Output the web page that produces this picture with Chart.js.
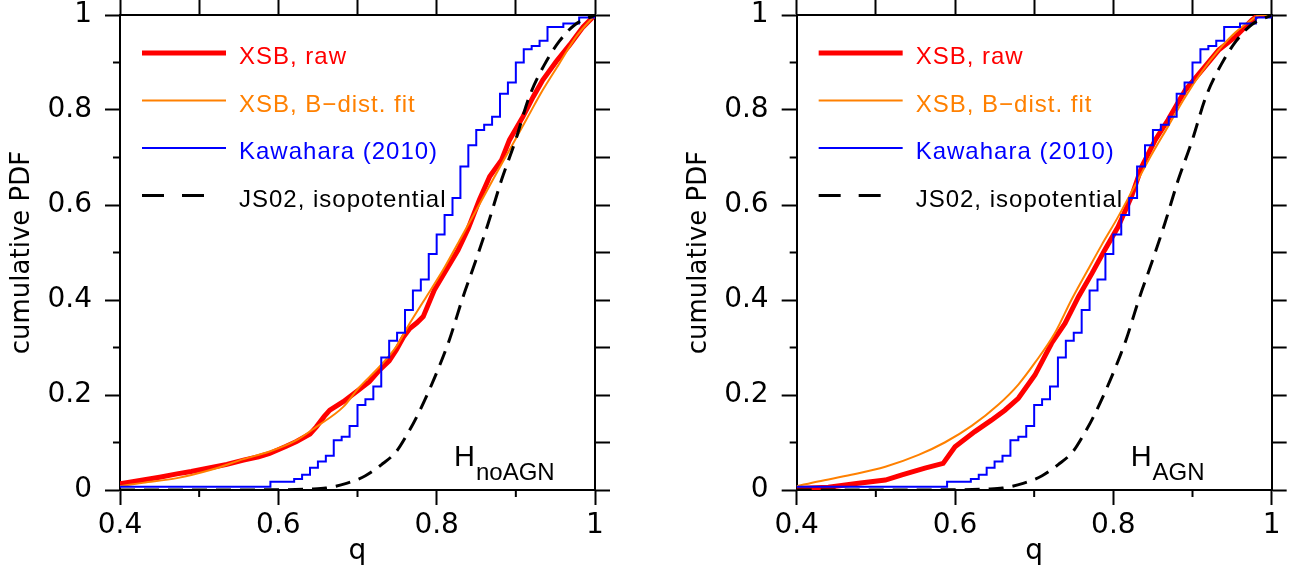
<!DOCTYPE html>
<html>
<head>
<meta charset="utf-8">
<script src="https://cdn.jsdelivr.net/npm/chart.js@4.4.0/dist/chart.umd.min.js"></script>
<style>
  html, body { margin: 0; padding: 0; background: #fff; }
  #wrap { position: relative; width: 1292px; height: 577px; }
  .panel { position: absolute; top: 0; width: 646px; height: 577px; }
</style>
</head>
<body>
<div id="wrap">
  <div class="panel" style="left:0"><canvas id="leftChart" width="646" height="577"></canvas></div>
  <div class="panel" style="left:646px"><canvas id="rightChart" width="646" height="577"></canvas></div>
</div>
<script>
// Kawahara (2010) step CDF - same in both panels
const kawQ = [0.40, 0.59, 0.62, 0.63, 0.64, 0.65, 0.66, 0.67, 0.68, 0.69, 0.70, 0.71, 0.72, 0.73, 0.74, 0.75, 0.76, 0.77, 0.78, 0.79, 0.80, 0.81, 0.82, 0.83, 0.84, 0.85, 0.86, 0.87, 0.88, 0.89, 0.90, 0.91, 0.92, 0.93, 0.94, 0.96, 0.98, 1.00];
const kawP = [0.007, 0.0175, 0.023, 0.032, 0.047, 0.06, 0.072, 0.105, 0.112, 0.135, 0.179, 0.191, 0.218, 0.279, 0.314, 0.331, 0.379, 0.42, 0.443, 0.497, 0.538, 0.579, 0.615, 0.681, 0.726, 0.758, 0.769, 0.786, 0.834, 0.858, 0.9, 0.928, 0.935, 0.946, 0.975, 0.982, 0.995, 1.0];

// JS02 isopotential (dashed) - same in both panels
const jsQ = [0.40, 0.50, 0.60, 0.64, 0.66, 0.686, 0.71, 0.73, 0.749, 0.762, 0.776, 0.797, 0.816, 0.832, 0.849, 0.865, 0.882, 0.899, 0.917, 0.936, 0.955, 0.975, 1.0];
const jsP = [0, 0, 0.0005, 0.002, 0.004, 0.014, 0.03, 0.053, 0.081, 0.115, 0.158, 0.235, 0.316, 0.40, 0.481, 0.561, 0.653, 0.733, 0.828, 0.895, 0.945, 0.98, 1.0];

// H_noAGN panel
const rawNoQ = [0.40, 0.429, 0.45, 0.472, 0.49, 0.514, 0.535, 0.556, 0.575, 0.589, 0.61, 0.623, 0.64, 0.648, 0.658, 0.665, 0.682, 0.701, 0.715, 0.728, 0.74, 0.749, 0.758, 0.766, 0.775, 0.783, 0.797, 0.812, 0.827, 0.84, 0.854, 0.867, 0.882, 0.892, 0.909, 0.922, 0.934, 0.951, 0.968, 0.985, 1.0];
const rawNoP = [0.013, 0.021, 0.027, 0.034, 0.039, 0.047, 0.054, 0.063, 0.07, 0.077, 0.092, 0.102, 0.118, 0.133, 0.155, 0.168, 0.186, 0.21, 0.228, 0.253, 0.272, 0.295, 0.322, 0.34, 0.352, 0.365, 0.421, 0.463, 0.505, 0.551, 0.611, 0.66, 0.695, 0.737, 0.786, 0.828, 0.863, 0.902, 0.937, 0.975, 1.0];
const fitNoQ = [0.40, 0.429, 0.472, 0.514, 0.556, 0.589, 0.623, 0.648, 0.682, 0.701, 0.728, 0.749, 0.766, 0.787, 0.808, 0.829, 0.85, 0.871, 0.892, 0.913, 0.934, 0.955, 0.976, 1.0];
const fitNoP = [0.008, 0.015, 0.025, 0.042, 0.065, 0.081, 0.105, 0.133, 0.175, 0.214, 0.26, 0.302, 0.351, 0.407, 0.463, 0.526, 0.589, 0.653, 0.716, 0.779, 0.842, 0.898, 0.954, 1.0];

// H_AGN panel
const rawAgnQ = [0.40, 0.44, 0.478, 0.512, 0.533, 0.562, 0.585, 0.60, 0.625, 0.646, 0.663, 0.68, 0.701, 0.722, 0.739, 0.756, 0.773, 0.789, 0.806, 0.823, 0.836, 0.853, 0.869, 0.891, 0.912, 0.933, 0.954, 0.975, 0.983, 1.0];
const rawAgnP = [0.003, 0.006, 0.014, 0.021, 0.032, 0.046, 0.056, 0.091, 0.123, 0.147, 0.168, 0.193, 0.242, 0.309, 0.351, 0.407, 0.456, 0.505, 0.554, 0.618, 0.681, 0.737, 0.779, 0.842, 0.884, 0.926, 0.954, 0.989, 1.0, 1.0];
const fitAgnQ = [0.40, 0.427, 0.469, 0.512, 0.554, 0.587, 0.621, 0.655, 0.68, 0.701, 0.726, 0.747, 0.77, 0.785, 0.806, 0.827, 0.848, 0.869, 0.891, 0.912, 0.933, 0.954, 0.975, 0.985, 1.0];
const fitAgnP = [0.008, 0.018, 0.032, 0.049, 0.074, 0.100, 0.135, 0.180, 0.222, 0.268, 0.33, 0.40, 0.47, 0.515, 0.575, 0.64, 0.705, 0.765, 0.828, 0.881, 0.926, 0.963, 0.99, 1.0, 1.0];

const legendLabels = ["XSB, raw", "XSB, B\u2212dist. fit", "Kawahara (2010)", "JS02, isopotential"];
const legendColors = ["#ff0000", "#ff8000", "#0000ff", "#000000"];
const legendWidths = [5, 2, 2, 3];
const legendRowsY = [0.92, 0.82, 0.72, 0.62];

const xMinor = [0.5, 0.7, 0.9];
const yMinor = [0.1, 0.3, 0.5, 0.7, 0.9];

Chart.defaults.font.family = "'DejaVu Sans', sans-serif";
Chart.defaults.color = "#000";

const pts = (q, p) => q.map((x, i) => ({ x: x, y: p[i] }));
const fmt = (v) => String(Number(v.toFixed(1)));

// minor ticks, legend and H label drawn on top
const panelDecor = {
  id: "panelDecor",
  afterDraw(chart, args, opts) {
    const ctx = chart.ctx;
    const xs = chart.scales.x, ys = chart.scales.y;
    const area = chart.chartArea;
    ctx.save();
    ctx.strokeStyle = "#000";
    ctx.lineWidth = 2;
    xMinor.forEach((v) => {
      const px = xs.getPixelForValue(v);
      ctx.beginPath();
      ctx.moveTo(px, area.bottom);
      ctx.lineTo(px, area.bottom + 7);
      ctx.stroke();
    });
    yMinor.forEach((v) => {
      const py = ys.getPixelForValue(v);
      ctx.beginPath();
      ctx.moveTo(area.left, py);
      ctx.lineTo(area.left - 7, py);
      ctx.stroke();
    });

    // legend
    const x0 = area.left + 22, x1 = area.left + 106, xt = area.left + 119;
    ctx.font = "24px 'Liberation Sans'";
    ctx.letterSpacing = "1px";
    ctx.textBaseline = "alphabetic";
    ctx.textAlign = "left";
    legendLabels.forEach((lab, i) => {
      const y = ys.getPixelForValue(legendRowsY[i]);
      ctx.strokeStyle = legendColors[i];
      ctx.lineWidth = legendWidths[i];
      ctx.setLineDash(i === 3 ? [22, 18] : []);
      ctx.beginPath();
      ctx.moveTo(x0, y);
      ctx.lineTo(i === 3 ? x0 + 64 : x1, y);
      ctx.stroke();
      ctx.setLineDash([]);
      ctx.fillStyle = legendColors[i];
      ctx.fillText(lab, xt, y + 11);
    });

    // H subscript label
    ctx.fillStyle = "#000";
    ctx.letterSpacing = "0px";
    const hx = area.left + 334;
    ctx.font = "29px 'Liberation Sans'";
    ctx.fillText("H", hx, area.bottom - 24);
    const hw = ctx.measureText("H").width;
    ctx.font = "24px 'Liberation Sans'";
    ctx.fillText(opts.sub, hx + hw + 1, area.bottom - 10);
    ctx.restore();
  },
};

// fixed axis sizes so both plot boxes sit where the reference has them
const fixH = (h) => (s) => { s.height = h; s.paddingLeft = 0; s.paddingRight = 0; };
const fixW = (w) => (s) => { s.width = w; s.paddingTop = 0; s.paddingBottom = 0; };

function makeChart(id, raw, fit, sub, padLeft, rightW) {
  return new Chart(document.getElementById(id), {
    type: "line",
    data: {
      datasets: [
        { label: "XSB, raw", data: raw, borderColor: "#ff0000", borderWidth: 5, order: 4 },
        { label: "XSB, B-dist. fit", data: fit, borderColor: "#ff8000", borderWidth: 2, cubicInterpolationMode: "monotone", order: 3 },
        { label: "Kawahara (2010)", data: pts(kawQ, kawP), borderColor: "#0000ff", borderWidth: 2, stepped: "before", order: 2 },
        { label: "JS02, isopotential", data: pts(jsQ, jsP), borderColor: "#000000", borderWidth: 3, borderDash: [15, 9], cubicInterpolationMode: "monotone", order: 1 },
      ],
    },
    options: {
      responsive: false,
      animation: false,
      devicePixelRatio: 1,
      layout: { padding: { left: padLeft, right: 0, top: 0, bottom: 0 } },
      elements: { point: { radius: 0 }, line: { fill: false } },
      plugins: { legend: { display: false }, tooltip: { enabled: false }, panelDecor: { sub: sub } },
      scales: {
        x: {
          type: "linear", position: "bottom", min: 0.4, max: 1,
          afterFit: fixH(87),
          ticks: { stepSize: 0.2, padding: 4, font: { size: 28 }, callback: fmt, maxRotation: 0 },
          grid: { drawOnChartArea: false, drawTicks: true, tickLength: 15, tickWidth: 2, tickColor: "#000" },
          border: { display: true, color: "#000", width: 2 },
          title: { display: true, text: "q", font: { size: 28 }, padding: { top: 0, bottom: 8 } },
        },
        x2: {
          type: "linear", position: "top", min: 0.4, max: 1,
          afterFit: fixH(15),
          ticks: { stepSize: 0.1, display: false },
          grid: { drawOnChartArea: false, drawTicks: true, tickLength: 15, tickWidth: 2, tickColor: "#000" },
          border: { display: true, color: "#000", width: 2 },
        },
        y: {
          type: "linear", position: "left", min: 0, max: 1,
          afterFit: fixW(120),
          ticks: { stepSize: 0.2, padding: 13, font: { size: 28 }, callback: fmt },
          grid: { drawOnChartArea: false, drawTicks: true, tickLength: 15, tickWidth: 2, tickColor: "#000" },
          border: { display: true, color: "#000", width: 2 },
          title: { display: true, text: "cumulative PDF", font: { size: 26 }, padding: { top: 7, bottom: 0 } },
        },
        y2: {
          type: "linear", position: "right", min: 0, max: 1,
          afterFit: fixW(rightW),
          ticks: { stepSize: 0.1, display: false },
          grid: { drawOnChartArea: false, drawTicks: true, tickLength: 15, tickWidth: 2, tickColor: "#000" },
          border: { display: true, color: "#000", width: 2 },
        },
      },
    },
    plugins: [panelDecor],
  });
}

makeChart("leftChart", pts(rawNoQ, rawNoP), pts(fitNoQ, fitNoP), "noAGN", 0, 51);
makeChart("rightChart", pts(rawAgnQ, rawAgnP), pts(fitAgnQ, fitAgnP), "AGN", 30.67, 20.33);
</script>
</body>
</html>
